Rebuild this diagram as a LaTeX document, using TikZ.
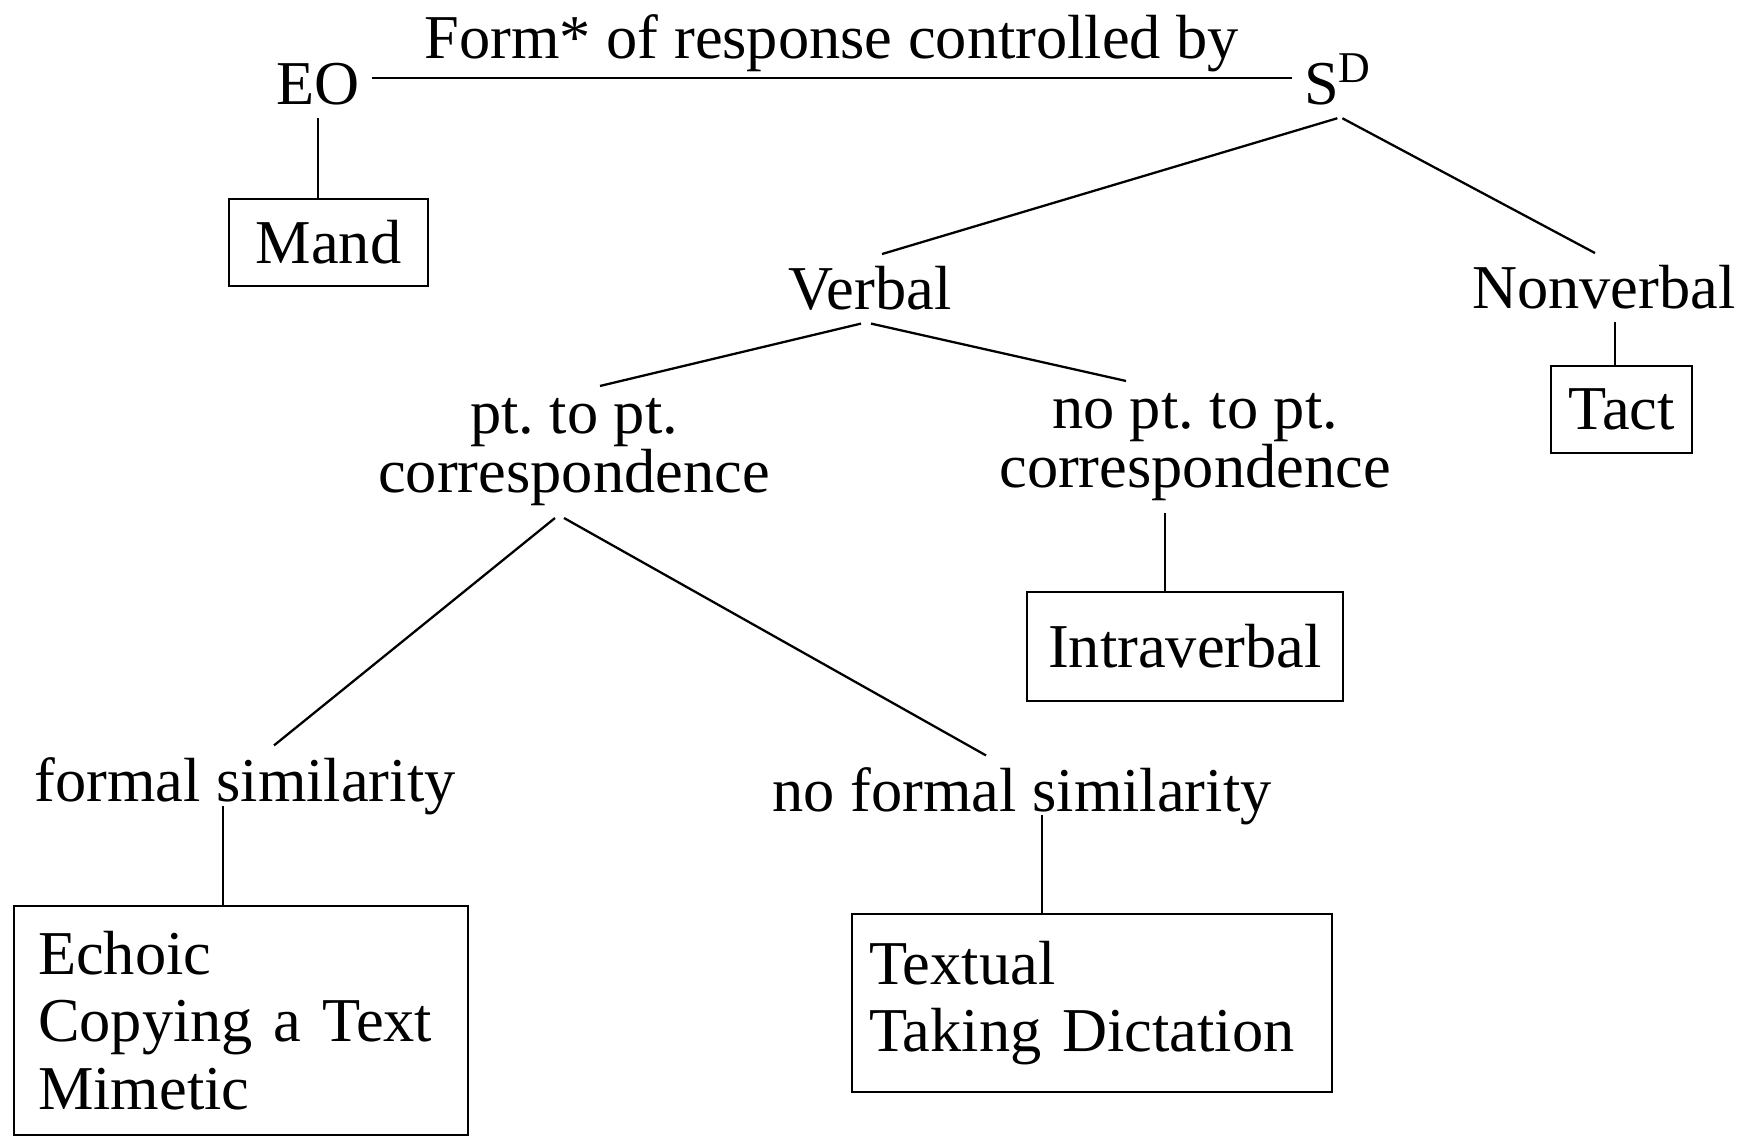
\documentclass[tikz,border=0pt]{standalone}
\usepackage{fontspec}
\setmainfont{Liberation Serif}
\frenchspacing
\begin{document}
\begin{tikzpicture}[
    lbl/.style={font=\fontsize{35.5}{28}\selectfont, inner sep=7pt, align=center},
    box/.style={draw, line width=1.2pt, font=\fontsize{35.5}{38.5}\selectfont, inner sep=0pt},
    link/.style={line width=1.3pt}
  ]
  \useasboundingbox (0,0) rectangle (35.02,22.72);
  % labels
  \node[lbl, anchor=base] (eo) at (6.36,20.62) {EO};
  \node[lbl, anchor=base west] (sd) at (25.83,20.62) {S\raisebox{13pt}{\fontsize{25}{25}\selectfont D}};
  \node[lbl, anchor=base] (verbal) at (17.40,16.52) {Verbal};
  \node[lbl, anchor=base] (nonverbal) at (32.08,16.54) {Nonverbal};
  \node[lbl] (ptpt) at (11.48,13.68) {pt. to pt.\\correspondence};
  \node[lbl] (noptpt) at (23.90,13.78) {no pt. to pt.\\correspondence};
  \node[lbl, anchor=base] (formal) at (4.90,6.68) {formal similarity};
  \node[lbl, anchor=base] (noformal) at (20.44,6.48) {no formal similarity};
  % boxes
  \node[box, minimum width=3.98cm, minimum height=1.74cm] (mand) at (6.57,17.87) {Mand};
  \node[box, minimum width=2.82cm, minimum height=1.74cm] (tact) at (32.43,14.53) {Tact};
  \node[box, minimum width=6.32cm, minimum height=2.18cm] (intraverbal) at (23.70,9.79) {Intraverbal};
  \node[box, anchor=north west, text width=8.12cm, inner xsep=0.48cm, minimum height=4.58cm, align=left] (echoic) at (0.26,4.62) {Echoic\\Copying a Text\\Mimetic};
  \node[box, anchor=north west, text width=8.92cm, inner xsep=0.34cm, minimum height=3.56cm, align=left] (textual) at (17.02,4.46) {Textual\\Taking Dictation};
  % connectors
  \draw[link] ([yshift=0.13cm]eo.east) -- node[lbl, above, inner sep=3pt] (title) {Form* of response controlled by} ([yshift=0.13cm]eo.east -| sd.west);
  \draw[link] (eo.south) -- (eo.south |- mand.north);
  \draw[link] (sd.south) -- ([xshift=0.24cm]verbal.north);
  \draw[link] ([xshift=0.1cm]sd.south) -- ([xshift=-0.18cm]nonverbal.north);
  \draw[link] ([xshift=-0.18cm]verbal.south) -- ([xshift=0.52cm]ptpt.north);
  \draw[link] ([xshift=0.02cm]verbal.south) -- ([xshift=-1.38cm]noptpt.north);
  \draw[link] ([xshift=0.22cm]nonverbal.south) -- ([xshift=0.22cm]nonverbal.south |- tact.north);
  \draw[link] ([xshift=-0.38cm]ptpt.south) -- ([xshift=0.58cm]formal.north);
  \draw[link] ([xshift=-0.2cm]ptpt.south) -- ([xshift=-0.72cm]noformal.north);
  \draw[link] ([xshift=-0.6cm]noptpt.south) -- ([xshift=-0.6cm]noptpt.south |- intraverbal.north);
  \draw[link] ([xshift=-0.44cm,yshift=-0.08cm]formal.base) -- ([xshift=-0.44cm]formal.base |- echoic.north);
  \draw[link] ([xshift=0.4cm,yshift=-0.06cm]noformal.base) -- ([xshift=0.4cm]noformal.base |- textual.north);
\end{tikzpicture}
\end{document}
